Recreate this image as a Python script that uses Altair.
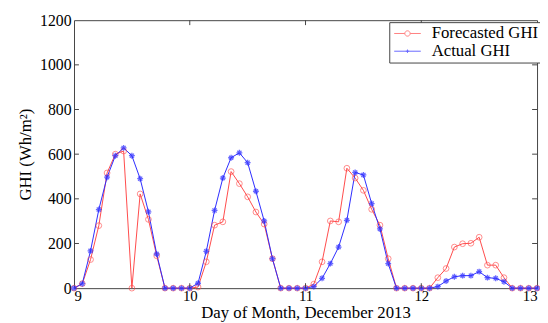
import altair as alt
import pandas as pd

# ---- data (14 samples per day, 9 Dec -> 13 Dec) ----
forecast_day9 = [0, 20, 128, 280, 516, 600, 614, 0, 422, 308, 145, 0, 0, 0]
forecast_day10 = [0, 5, 118, 282, 297, 522, 468, 409, 341, 287, 132, 0, 0, 0]
forecast_day11 = [0, 18, 118, 301, 297, 537, 493, 438, 353, 282, 132, 0, 0, 0]
forecast_day12 = [0, 0, 47, 88, 184, 199, 201, 228, 103, 103, 47, 0, 0, 0]

actual_day9 = [0, 20, 167, 352, 497, 593, 628, 593, 490, 342, 153, 0, 0, 0]
actual_day10 = [0, 22, 165, 348, 493, 584, 606, 562, 434, 301, 132, 0, 0, 0]
actual_day11 = [0, 7, 44, 110, 184, 304, 518, 507, 379, 265, 110, 0, 0, 0]
actual_day12 = [0, 0, 7, 32, 51, 56, 56, 74, 47, 44, 29, 0, 0, 0]

end_value = [0]
samples_per_day = 14
first_day = 9

x_ticks = [9, 10, 11, 12, 13]
y_ticks = [0, 200, 400, 600, 800, 1000, 1200]
series_names = ["Forecasted GHI", "Actual GHI"]

forecast = forecast_day9 + forecast_day10 + forecast_day11 + forecast_day12 + end_value
actual = actual_day9 + actual_day10 + actual_day11 + actual_day12 + end_value
day = [first_day + i / samples_per_day for i in range(len(forecast))]

df = pd.DataFrame({"day": day, "forecast": forecast, "actual": actual})

RED = "#ff4a4a"
BLUE = "#2b2bff"
FONT = "Times New Roman, Liberation Serif, serif"
W, H = 470, 272

xscale = alt.Scale(domain=[9, 13], nice=False)
yscale = alt.Scale(domain=[0, 1200], nice=False)

x_axis = alt.Axis(values=x_ticks, format="d", title="Day of Month, December 2013",
                  titlePadding=1, labelPadding=1, labelFontSize=15)
y_axis = alt.Axis(values=y_ticks, format="d", title="GHI (Wh/m²)",
                  titlePadding=5, labelPadding=3)

X = alt.X("day:Q", scale=xscale, axis=x_axis)

base = alt.Chart(df)

f_line = base.mark_line(color=RED, strokeWidth=1).encode(
    x=X, y=alt.Y("forecast:Q", scale=yscale, axis=y_axis))
f_pts = base.mark_point(shape="circle", size=34, color=RED, filled=False,
                        strokeWidth=0.9).encode(
    x=X, y=alt.Y("forecast:Q", scale=yscale, axis=y_axis))

STAR = "M-1,0H1M0,-1V1M-0.7,-0.7L0.7,0.7M-0.7,0.7L0.7,-0.7"
a_line = base.mark_line(color=BLUE, strokeWidth=1).encode(
    x=X, y=alt.Y("actual:Q", scale=yscale, axis=y_axis))
a_pts = base.mark_point(shape=STAR, size=36, color=BLUE, filled=False,
                        strokeWidth=1.3).encode(
    x=X, y=alt.Y("actual:Q", scale=yscale, axis=y_axis))

# legend layer (no drawn points: null positions)
F_SYM = ("M-2,0H-0.4M0.4,0H2M0.4,0A0.4,0.4 0 1,1 -0.4,0"
         "A0.4,0.4 0 1,1 0.4,0")
A_SYM = "M-2,0H2M0,-0.25V0.25M-0.25,0H0.25"
leg_df = pd.DataFrame({"series": series_names, "day": [None, None],
                       "v": [None, None]})
legend = alt.Legend(title=None, orient="none", legendX=320, legendY=2,
                    padding=3, fillColor="white", strokeColor="#444",
                    symbolSize=182, symbolStrokeWidth=1, symbolOffset=7,
                    labelOffset=16, rowPadding=0, symbolFillColor="transparent")
leg = alt.Chart(leg_df).mark_point(filled=False).encode(
    x=X, y=alt.Y("v:Q", scale=yscale, axis=y_axis),
    color=alt.Color("series:N", scale=alt.Scale(domain=series_names, range=[RED, BLUE]),
                    legend=legend),
    shape=alt.Shape("series:N", scale=alt.Scale(domain=series_names, range=[F_SYM, A_SYM]),
                    legend=legend),
)

# inward tick marks on all four sides
xt = pd.DataFrame({"t": x_ticks[1:-1]})
yt = pd.DataFrame({"t": y_ticks[1:-1]})
TICK = "#444"
XT = alt.X("t:Q", scale=xscale, axis=x_axis)
YT = alt.Y("t:Q", scale=yscale, axis=y_axis)
tx_b = alt.Chart(xt).mark_rule(color=TICK).encode(
    x=XT, y=alt.value(H), y2=alt.value(H - 5))
tx_t = alt.Chart(xt).mark_rule(color=TICK).encode(
    x=XT, y=alt.value(0), y2=alt.value(5))
ty_l = alt.Chart(yt).mark_rule(color=TICK).encode(
    y=YT, x=alt.value(0), x2=alt.value(5))
ty_r = alt.Chart(yt).mark_rule(color=TICK).encode(
    y=YT, x=alt.value(W - 5), x2=alt.value(W))

chart = alt.layer(f_line, a_line, f_pts, a_pts, tx_b, tx_t, ty_l, ty_r, leg).properties(
    width=W, height=H, autosize="none",
    padding={"left": 67, "top": 10, "right": 3, "bottom": 33},
    background="white",
).configure(font=FONT).configure_view(
    stroke="#444", strokeWidth=1
).configure_axis(
    domain=False, ticks=False, grid=False,
    labelFont=FONT, titleFont=FONT, labelFontSize=16, titleFontSize=17,
    titleFontWeight="normal", labelColor="black", titleColor="black",
).configure_legend(
    labelFont=FONT, labelFontSize=17, labelColor="black",
)

chart.save("out.html", embed_options={"renderer": "svg", "actions": False})
